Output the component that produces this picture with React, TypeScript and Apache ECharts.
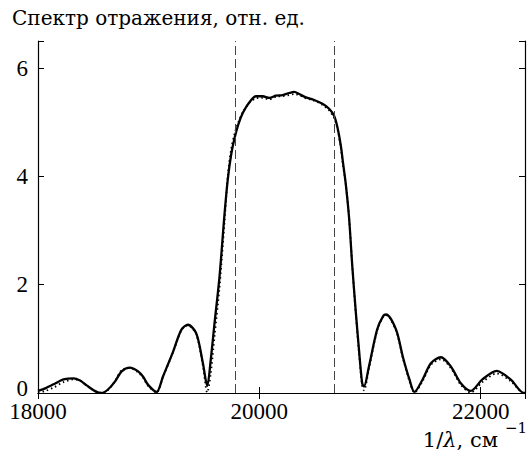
import React, { useEffect, useRef } from "react";
import * as echarts from "echarts";

const wavenumber = [
  18000, 18070, 18140, 18230, 18320, 18380, 18440, 18520, 18576, 18630,
  18695, 18756, 18830, 18905, 18950, 18995, 19071, 19130, 19220, 19296,
  19355, 19430, 19490, 19529, 19560, 19595, 19640, 19685, 19715, 19745,
  19775, 19810, 19850, 19910, 19970, 20030, 20090, 20150, 20210, 20270,
  20315, 20360, 20420, 20495, 20570, 20630, 20675, 20705, 20735, 20756,
  20780, 20810, 20840, 20870, 20900, 20929, 20945, 20990, 21064, 21118,
  21145, 21235, 21296, 21356, 21401, 21475, 21550, 21640, 21730, 21820,
  21910, 22015, 22144, 22270, 22390, 22400,
];

const reflectionSolid = [
  0.04, 0.09, 0.16, 0.25, 0.27, 0.23, 0.14, 0.03, 0.0, 0.06,
  0.21, 0.4, 0.47, 0.4, 0.3, 0.15, 0.02, 0.31, 0.76, 1.17,
  1.26, 1.1, 0.55, 0.13, 0.6, 1.29, 2.15, 3.3, 3.95, 4.4,
  4.7, 4.96, 5.17, 5.37, 5.48, 5.48, 5.45, 5.49, 5.5, 5.54,
  5.56, 5.52, 5.46, 5.41, 5.34, 5.25, 5.12, 4.91, 4.58, 4.25,
  3.87, 3.25, 2.33, 1.53, 0.8, 0.18, 0.12, 0.49, 1.17, 1.42,
  1.45, 1.17, 0.67, 0.25, 0.02, 0.25, 0.55, 0.66, 0.49, 0.18,
  0.04, 0.25, 0.41, 0.25, 0.0, 0.0,
];

const reflectionDotted = [
  0.01, 0.04, 0.1, 0.2, 0.25, 0.23, 0.14, 0.03, 0.0, 0.05,
  0.22, 0.42, 0.46, 0.38, 0.28, 0.13, 0.01, 0.3, 0.75, 1.16,
  1.25, 1.08, 0.5, 0.01, 0.35, 1.05, 1.95, 3.15, 4.02, 4.5,
  4.78, 5.0, 5.18, 5.36, 5.44, 5.45, 5.42, 5.47, 5.48, 5.5,
  5.52, 5.5, 5.44, 5.4, 5.32, 5.22, 5.08, 4.88, 4.55, 4.2,
  3.87, 3.25, 2.33, 1.5, 0.75, 0.12, 0.05, 0.45, 1.15, 1.41,
  1.44, 1.15, 0.65, 0.22, 0.01, 0.22, 0.52, 0.62, 0.46, 0.15,
  0.01, 0.2, 0.36, 0.22, 0.0, 0.0,
];

const bandEdges = [19780, 20680];
const xTickValues = [18000, 20000, 22000];
const yTickValues = [0, 2, 4, 6];
const yTitle = "Спектр отражения, отн. ед.";

export default function App() {
  const ref = useRef<HTMLDivElement>(null);
  useEffect(() => {
    document.body.style.margin = "0";
    const chart = echarts.init(ref.current!, null, { renderer: "svg" });
    const numFont = "'Liberation Serif', serif";
    const txtFont = "'DejaVu Serif', serif";
    const fs = 23;
    const solid = wavenumber.map((x, i) => [x, reflectionSolid[i]]);
    const dotted = wavenumber.map((x, i) => [x, reflectionDotted[i]]);
    const axisLine = { show: true, lineStyle: { color: "#000", width: 1.2 } };
    const axisTick = { show: true, inside: true, length: 6, lineStyle: { color: "#000", width: 1 } };
    const xBase = { type: "value", min: 18000, max: 22400, interval: 2000, splitLine: { show: false }, axisLine, axisTick };
    const yBase = { type: "value", min: 0, max: 6.5, interval: 2, splitLine: { show: false }, axisLine, axisTick };
    chart.setOption({
      animation: false,
      grid: { left: 38, right: 1, top: 41, bottom: 57 },
      xAxis: [
        {
          ...xBase,
          position: "bottom",
          axisLabel: {
            formatter: (v: number) => (xTickValues.includes(v) ? String(v) : ""),
            fontFamily: numFont, fontSize: fs, color: "#000", margin: 7,
          },
        },
        { ...xBase, position: "top", axisLabel: { show: false } },
      ],
      yAxis: [
        {
          ...yBase,
          position: "left",
          axisLabel: {
            formatter: (v: number) =>
              v === 0 ? "{z|0}" : yTickValues.includes(v) ? String(v) : "",
            fontFamily: numFont, fontSize: fs, color: "#000", margin: 10,
            rich: { z: { fontFamily: numFont, fontSize: fs, color: "#000", padding: [0, 0, 10, 0] } },
          },
        },
        { ...yBase, position: "right", axisLabel: { show: false } },
      ],
      graphic: [
        {
          type: "text", left: 12, top: 8,
          style: { text: yTitle, font: `20px ${txtFont}`, fill: "#000" },
        },
        {
          type: "text", x: 498, y: 450,
          style: {
            text: "{n|1/}{i|λ}{n|, см}",
            textAlign: "right", textVerticalAlign: "bottom",
            rich: {
              n: { fontFamily: txtFont, fontSize: 21, fill: "#000" },
              i: { fontFamily: txtFont, fontSize: 21, fontStyle: "italic", fill: "#000" },
            },
          },
        },
        {
          type: "text", x: 527, y: 420,
          style: { text: "−1", font: `15px ${txtFont}`, fill: "#000", textAlign: "right" },
        },
      ],
      series: [
        {
          type: "line", xAxisIndex: 0, yAxisIndex: 0, data: dotted, smooth: 0.3,
          showSymbol: false, lineStyle: { color: "#000", width: 1.8, type: [1.5, 3] },
        },
        {
          type: "line", xAxisIndex: 0, yAxisIndex: 0, data: solid, smooth: 0.3,
          showSymbol: false, lineStyle: { color: "#000", width: 2.3 },
          markLine: {
            silent: true, symbol: ["none", "none"], label: { show: false },
            lineStyle: { type: [9, 4], color: "#444", width: 1 },
            data: bandEdges.map((x) => ({ xAxis: x })),
          },
        },
      ],
    });
    return () => chart.dispose();
  }, []);
  return <div ref={ref} style={{ width: 528, height: 450 }} />;
}
